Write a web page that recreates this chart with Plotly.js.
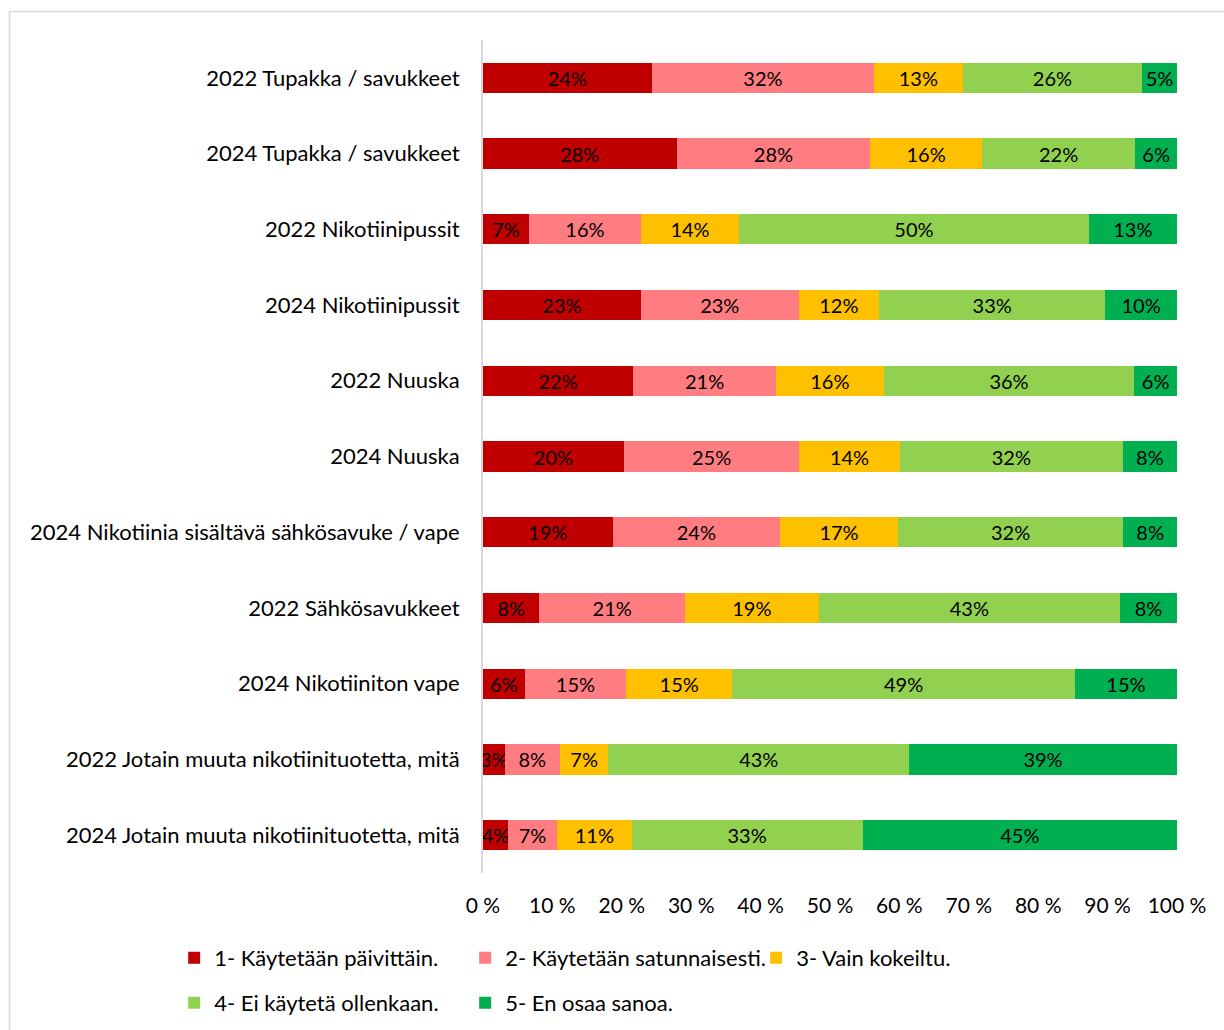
<!DOCTYPE html>
<html>
<head>
<meta charset="utf-8">
<script src="https://cdn.plot.ly/plotly-3.0.1.min.js"></script>
<style>
html,body{margin:0;padding:0;background:#fff;}
#chart{width:1224px;height:1030px;}
</style>
</head>
<body>
<div id="chart"></div>
<script>
const categories = [
  "2022 Tupakka / savukkeet",
  "2024 Tupakka / savukkeet",
  "2022 Nikotiinipussit",
  "2024 Nikotiinipussit",
  "2022 Nuuska",
  "2024 Nuuska",
  "2024 Nikotiinia sisältävä sähkösavuke / vape",
  "2022 Sähkösavukkeet",
  "2024 Nikotiiniton vape",
  "2022 Jotain muuta nikotiinituotetta, mitä",
  "2024 Jotain muuta nikotiinituotetta, mitä"
];
const seriesNames = [
  "1- Käytetään päivittäin.",
  "2- Käytetään satunnaisesti.",
  "3- Vain kokeiltu.",
  "4- Ei käytetä ollenkaan.",
  "5- En osaa sanoa."
];
const daily      = [24.33, 27.89, 6.64, 22.75, 21.64, 20.29, 18.7, 8.13, 6.01, 3.13, 3.6];
const occasional = [32.0, 27.93, 16.1, 22.73, 20.57, 25.28, 24.09, 20.96, 14.62, 7.93, 7.07];
const tried      = [12.8, 16.06, 14.17, 11.59, 15.53, 14.48, 17.01, 19.28, 15.28, 7.02, 10.73];
const notUsed    = [25.85, 22.11, 50.38, 32.59, 36.1, 32.15, 32.45, 43.41, 49.38, 43.31, 33.31];
const dontKnow   = [5.0, 6.01, 12.7, 10.34, 6.16, 7.8, 7.75, 8.22, 14.71, 38.61, 45.29];
const tickValues = [0,10,20,30,40,50,60,70,80,90,100];
const tickLabels = ["0 %","10 %","20 %","30 %","40 %","50 %","60 %","70 %","80 %","90 %","100 %"];

const colors = ["#C00000", "#FF7C80", "#FFC000", "#92D050", "#00B050"];
const seriesValues = [daily, occasional, tried, notUsed, dontKnow];
const FONT = "Lato, 'Open Sans', sans-serif";

const traces = seriesValues.map((vals, i) => ({
  type: "bar",
  orientation: "h",
  name: seriesNames[i],
  y: categories,
  x: vals,
  marker: {color: colors[i], line: {width: 0}},
  texttemplate: "%{x:.0f}%",
  textposition: "inside",
  insidetextanchor: "middle",
  textangle: 0,
  constraintext: "none",
  textfont: {family: FONT, size: 20, color: "#000000"},
  legend: i < 3 ? "legend" : "legend2",
  hoverinfo: "skip"
}));

const layout = {
  width: 1224,
  height: 1030,
  margin: {l: 483, r: 47, t: 40, b: 157, autoexpand: false},
  paper_bgcolor: "#ffffff",
  plot_bgcolor: "#ffffff",
  barmode: "stack",
  bargap: 0.6,
  font: {family: FONT, size: 20, color: "#000000"},
  xaxis: {
    range: [0, 100],
    tickvals: tickValues,
    ticktext: tickLabels,
    showgrid: false,
    zeroline: false,
    showline: false,
    ticks: "",
    ticklabelstandoff: 18,
    tickfont: {family: FONT, size: 21, color: "#000000"},
    fixedrange: true
  },
  yaxis: {
    type: "category",
    autorange: false,
    range: [10.5, -0.5],
    showgrid: false,
    zeroline: false,
    showline: true,
    linecolor: "#d9d9d9",
    linewidth: 2,
    ticks: "",
    ticklabelstandoff: 17,
    tickfont: {family: FONT, size: 22, color: "#000000"},
    fixedrange: true
  },
  showlegend: true,
  legend: {
    orientation: "h",
    x: -0.445, xanchor: "left",
    y: -0.102, yanchor: "middle",
    font: {family: FONT, size: 22, color: "#000000"},
    entrywidth: 246,
    entrywidthmode: "pixels",
    itemclick: false, itemdoubleclick: false,
    traceorder: "normal"
  },
  legend2: {
    orientation: "h",
    x: -0.445, xanchor: "left",
    y: -0.156, yanchor: "middle",
    font: {family: FONT, size: 22, color: "#000000"},
    entrywidth: 246,
    entrywidthmode: "pixels",
    itemclick: false, itemdoubleclick: false,
    traceorder: "normal"
  },
  shapes: [{
    type: "rect", xref: "paper", yref: "paper",
    x0: (9.5 - 483) / 694, x1: (1240 - 483) / 694,
    y0: (873 - 1045) / 833, y1: (873 - 11.5) / 833,
    line: {color: "#d9d9d9", width: 1.5},
    fillcolor: "rgba(0,0,0,0)",
    layer: "below"
  }]
};

Plotly.newPlot("chart", traces, layout, {displayModeBar: false, staticPlot: true});
</script>
</body>
</html>
